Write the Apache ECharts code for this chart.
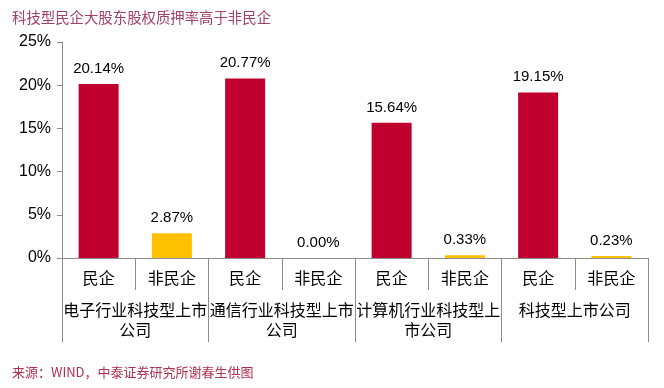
<!DOCTYPE html>
<html>
<head>
<meta charset="utf-8">
<script src="https://cdn.jsdelivr.net/npm/echarts@6/dist/echarts.min.js"></script>
<style>html,body{margin:0;padding:0;background:#fff}#c{width:664px;height:388px}</style>
</head>
<body>
<div id="c"></div>
<script>
var titleText = '科技型民企大股东股权质押率高于非民企';
var sourceText = '来源：WIND，中泰证券研究所谢春生供图';
var subCategories = ['民企', '非民企', '民企', '非民企', '民企', '非民企', '民企', '非民企'];
var groupCategories = ['电子行业科技型上市\n公司', '通信行业科技型上市\n公司', '计算机行业科技型上\n市公司', '科技型上市公司'];
var values = [20.14, 2.87, 20.77, 0.00, 15.64, 0.33, 19.15, 0.23];
var yTicks = [0, 5, 10, 15, 20, 25];

var RED = '#C0002F', YELLOW = '#FFC000';
var chart = echarts.init(document.getElementById('c'));
var cjk = '"Noto Sans CJK SC", "Noto Sans", sans-serif';
var latin = 'Arial, "Liberation Sans", sans-serif';

chart.setOption({
  animation: false,
  backgroundColor: '#fff',
  title: [
    { text: titleText, left: 7, top: 5, textStyle: { fontFamily: cjk, fontSize: 14.4, fontWeight: 'normal', color: '#A3406B' } },
    { text: sourceText, left: 7, top: 361, textStyle: { fontFamily: cjk, fontSize: 13, fontWeight: 'normal', color: '#B0304F' } }
  ],
  grid: { left: 62, right: 16, top: 42, bottom: 130, containLabel: false },
  xAxis: [
    {
      type: 'category', data: subCategories, position: 'bottom',
      axisLine: { show: true, lineStyle: { color: '#8c8c8c', width: 1 } },
      axisTick: { show: true, interval: 0, length: 32, lineStyle: { color: '#8c8c8c' } },
      axisLabel: { interval: 0, margin: 12, fontFamily: cjk, fontSize: 16, color: '#000' },
      splitLine: { show: false }
    },
    {
      type: 'category', data: groupCategories, position: 'bottom',
      axisLine: { show: false },
      axisTick: { show: true, interval: 0, length: 84, lineStyle: { color: '#8c8c8c' } },
      axisLabel: { interval: 0, margin: 42, fontFamily: cjk, fontSize: 16, lineHeight: 20, color: '#000', align: 'center' },
      splitLine: { show: false }
    }
  ],
  yAxis: {
    type: 'value', min: yTicks[0], max: yTicks[yTicks.length - 1], interval: 5,
    axisLine: { show: true, lineStyle: { color: '#8c8c8c' } },
    axisTick: { show: true, length: 5, lineStyle: { color: '#8c8c8c' } },
    axisLabel: { formatter: '{value}%', fontFamily: latin, fontSize: 16, color: '#000', margin: 11 },
    splitLine: { show: false }
  },
  series: [{
    type: 'bar', xAxisIndex: 0, barWidth: 40,
    data: values.map(function (v, i) { return { value: v, itemStyle: { color: i % 2 === 0 ? RED : YELLOW } }; }),
    label: {
      show: true, position: 'top', distance: 8,
      formatter: function (p) { return p.value.toFixed(2) + '%'; },
      fontFamily: latin, fontSize: 15, color: '#000'
    }
  }]
});
</script>
</body>
</html>
